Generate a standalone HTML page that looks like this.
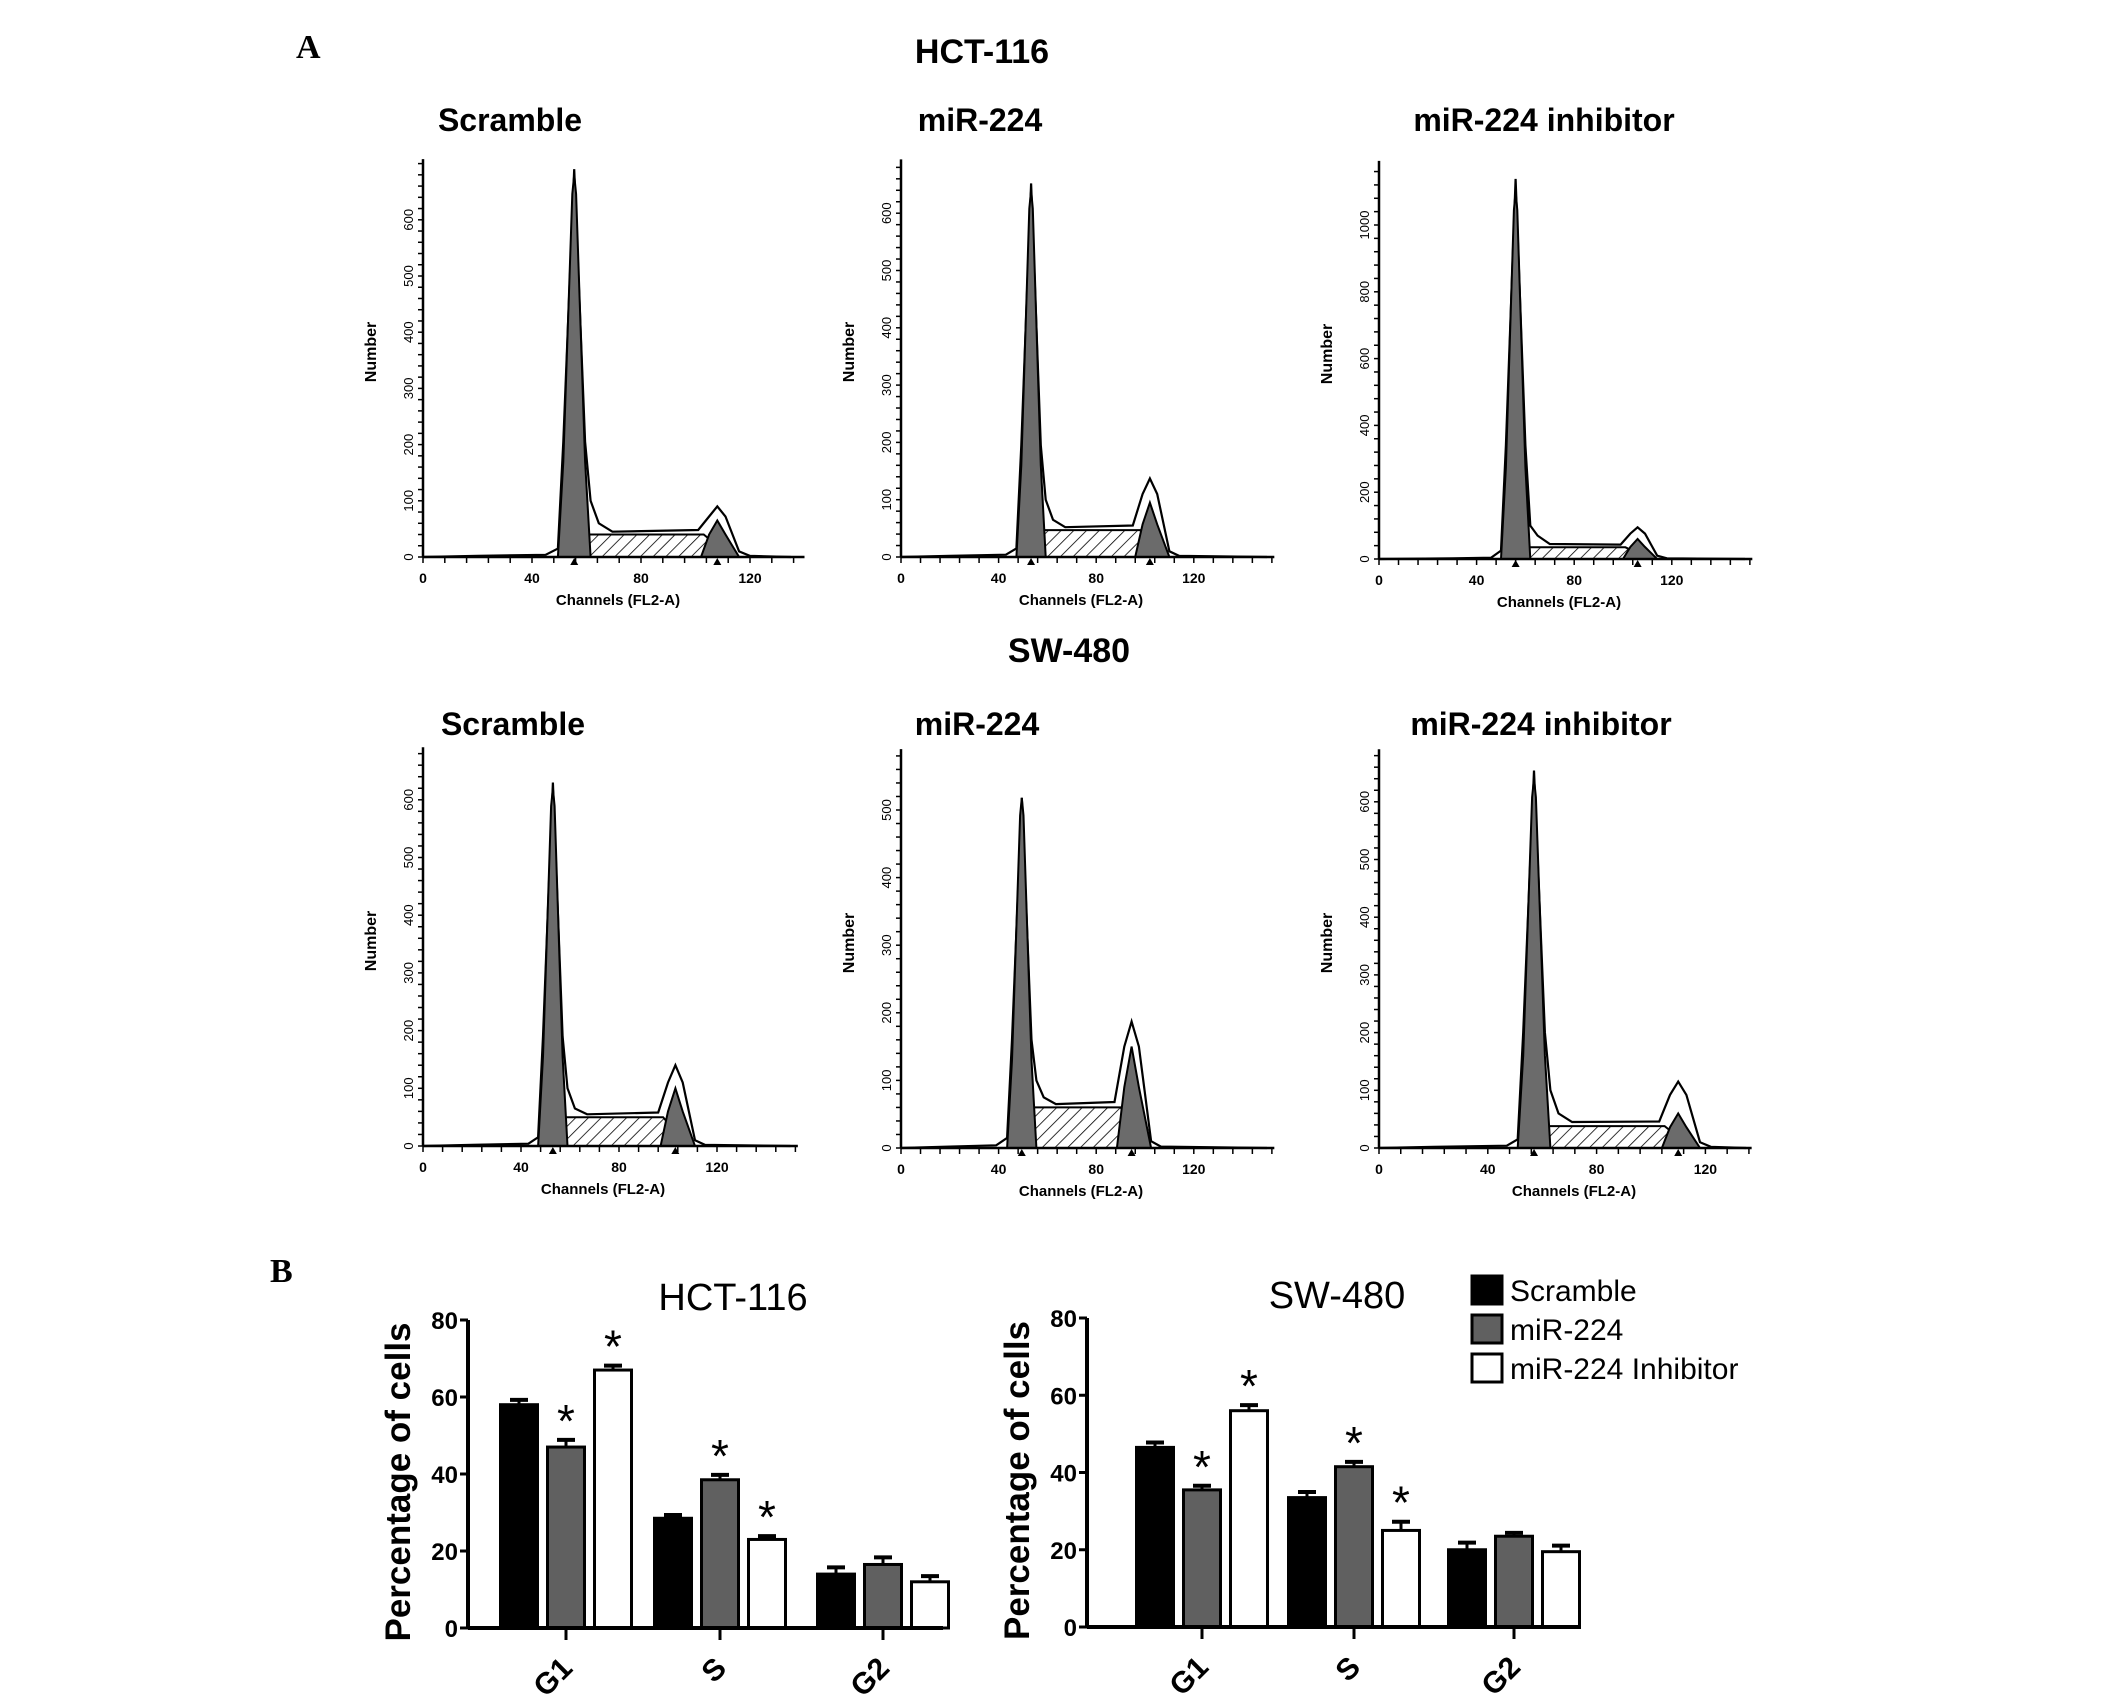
<!DOCTYPE html>
<html><head><meta charset="utf-8">
<style>
html,body{margin:0;padding:0;background:#fff;}
svg{display:block;}
</style></head>
<body>
<svg id="fig" xmlns="http://www.w3.org/2000/svg" width="2126" height="1697" viewBox="0 0 2126 1697">
<defs>
<pattern id="hatch" patternUnits="userSpaceOnUse" width="9" height="9" patternTransform="rotate(45)">
<rect width="9" height="9" fill="#fff"/><line x1="0" y1="0" x2="0" y2="9" stroke="#000" stroke-width="1.6"/>
</pattern>
</defs>
<text x="296" y="58" font-family="Liberation Serif, serif" font-weight="bold" font-size="34">A</text>
<text x="270" y="1282" font-family="Liberation Serif, serif" font-weight="bold" font-size="34">B</text>
<text x="982" y="63" text-anchor="middle" font-family="Liberation Sans, sans-serif" font-weight="bold" font-size="34">HCT-116</text>
<text x="1069" y="662" text-anchor="middle" font-family="Liberation Sans, sans-serif" font-weight="bold" font-size="34">SW-480</text>
<g id="hists"></g>
<g id="bars"></g>
</svg>
<script>
// ---------- Histogram data (channel, count) ----------
const histTitles = ["Scramble","miR-224","miR-224 inhibitor","Scramble","miR-224","miR-224 inhibitor"];
const histG1 = [
 [[49.5,0],[51.5,170],[54.8,646],[55.5,680],[56.2,646],[59.5,170],[61.5,0]],
 [[47.3,0],[49.3,160],[52.6,608],[53.3,640],[54,608],[57.3,160],[59.3,0]],
 [[50,0],[52,275],[55.3,1045],[56,1100],[56.7,1045],[60,275],[62,0]],
 [[47,0],[49,155],[52.3,589],[53,620],[53.7,589],[57,155],[59,0]],
 [[43.5,0],[45.5,130],[48.8,492],[49.5,518],[50.2,492],[53.5,130],[55.5,0]],
 [[51,0],[53,160],[56.3,608],[57,640],[57.7,608],[61,160],[63,0]]
];
const histG2 = [
 [[102,0],[105,40],[108,65],[111,40],[116,0]],
 [[96,0],[99,57],[102,95],[105,57],[110,0]],
 [[100,0],[103,36],[106,60],[109,36],[114,0]],
 [[97,0],[100,60],[103,100],[106,60],[111,0]],
 [[88.5,0],[91.5,90],[94.5,150],[97.5,90],[102.5,0]],
 [[104,0],[107,36],[110,60],[113,36],[118,0]]
];
const histS = [
 [[52,0],[60,40],[103,40],[113,0]],
 [[49,0],[57,47],[98,47],[107,0]],
 [[52,0],[60,35],[101,35],[111,0]],
 [[50,0],[58,50],[98,50],[108,0]],
 [[45,0],[53,60],[90,60],[100,0]],
 [[52,0],[61,38],[105,38],[115,0]]
];
const histOutline = [
 [[0,0],[20,2],[45,4],[49.5,15],[51.5,205],[55.5,690],[59.5,205],[61.5,100],[64.5,60],[69.5,45],[101,48],[105,72],[108,90],[111,72],[116,10],[120,2],[135,0]],
 [[0,0],[20,2],[43,4],[47.3,15],[49.3,195],[53.3,652],[57.3,195],[59.3,100],[62.3,65],[67.3,52],[95,55],[99,110],[102,137],[105,110],[110,10],[114,2],[150,0]],
 [[0,0],[30,2],[46,4],[50,25],[52,340],[56,1138],[60,340],[62,100],[65,70],[70,45],[99,43],[103,76],[106,95],[109,76],[114,10],[118,2],[150,0]],
 [[0,0],[20,2],[43,4],[47,15],[49,190],[53,630],[57,190],[59,100],[62,65],[67,55],[96,58],[100,110],[103,140],[106,110],[111,10],[115,2],[150,0]],
 [[0,0],[20,2],[39,4],[43.5,15],[45.5,160],[49.5,518],[53.5,160],[55.5,100],[58.5,75],[63.5,65],[87.5,68],[91.5,150],[94.5,187],[97.5,150],[102.5,10],[106.5,2],[150,0]],
 [[0,0],[20,2],[47,4],[51,15],[53,200],[57,654],[61,200],[63,100],[66,60],[71,45],[103,46],[107,92],[110,115],[113,92],[118,10],[122,2],[135,0]]
];
const histYTicks = [[0,100,200,300,400,500,600],[0,100,200,300,400,500,600],[0,200,400,600,800,1000],[0,100,200,300,400,500,600],[0,100,200,300,400,500],[0,100,200,300,400,500,600]];
const histXTicks = [0,40,80,120];
const histYMax = [708,694,1192,691,590,691];
const histXMax = [140,153,153,153,153,137];
// layout
const hOX = [423,901,1379,423,901,1379];
const hBase = [557,557,559,1146,1148,1148];
const hPxCh = [2.725,2.44,2.44,2.45,2.44,2.72];
const hPxUnit = [0.562,0.573,0.334,0.577,0.676,0.577];
const hTitleX = [510,980,1544,513,977,1541];

const NS="http://www.w3.org/2000/svg";
function mk(tag,attrs,parent){const e=document.createElementNS(NS,tag);for(const k in attrs)e.setAttribute(k,attrs[k]);parent.appendChild(e);return e;}
const hg=document.getElementById('hists');
for(let i=0;i<6;i++){
  const g=mk('g',{},hg);
  
  
  const sx=c=>hOX[i]+c*hPxCh[i];
  const sy=v=>hBase[i]-v*hPxUnit[i];
  const pts=a=>a.map(p=>sx(p[0]).toFixed(1)+','+sy(p[1]).toFixed(1)).join(' ');
  const t=mk('text',{x:hTitleX[i],y:(i<3?131:735),'text-anchor':'middle','font-family':'Liberation Sans, sans-serif','font-weight':'bold','font-size':'32'},g);
  t.textContent=histTitles[i];
  
  
  const s=mk('polygon',{points:pts(histS[i]),fill:'url(#hatch)',stroke:'#000','stroke-width':'2'},g);
  
  
  const o=mk('polyline',{points:pts(histOutline[i]),fill:'none',stroke:'#000','stroke-width':'2.2'},g);
  
  
  const g1=mk('polygon',{points:pts(histG1[i]),fill:'#6b6b6b',stroke:'#000','stroke-width':'2'},g);
  
  
  const g2=mk('polygon',{points:pts(histG2[i]),fill:'#6b6b6b',stroke:'#000','stroke-width':'2'},g);
  
  
  // axes
  const ya=mk('line',{x1:sx(0),y1:sy(histYMax[i]),x2:sx(0),y2:sy(0),stroke:'#000','stroke-width':'2.5'},g);
  
  
  const xa=mk('line',{x1:sx(0),y1:sy(0),x2:sx(histXMax[i]),y2:sy(0),stroke:'#000','stroke-width':'2.5'},g);
  
  
  const step=histYTicks[i][1]-histYTicks[i][0];
  for(let v=0;v<=histYMax[i];v+=step/5){mk('line',{x1:sx(0)-5,y1:sy(v),x2:sx(0),y2:sy(v),stroke:'#000','stroke-width':'1.5'},g);}
  for(let c=0;c<=histXMax[i];c+=8){mk('line',{x1:sx(c),y1:sy(0),x2:sx(c),y2:sy(0)+6,stroke:'#000','stroke-width':'1.5'},g);}
  histYTicks[i].forEach(v=>{
    const l=mk('text',{x:0,y:0,transform:`translate(${sx(0)-10},${sy(v)}) rotate(-90)`,'text-anchor':'middle','font-family':'Liberation Sans, sans-serif','font-size':'13'},g);
    l.textContent=v;
    
    
  });
  histXTicks.forEach(c=>{
    const l=mk('text',{x:sx(c),y:sy(0)+26,'text-anchor':'middle','font-family':'Liberation Sans, sans-serif','font-weight':'bold','font-size':'14'},g);
    l.textContent=c;
    
    
  });
  const xt=mk('text',{x:sx(0)+(i==0||i==5?195:180),y:sy(0)+48,'text-anchor':'middle','font-family':'Liberation Sans, sans-serif','font-weight':'bold','font-size':'15'},g);
  xt.textContent='Channels (FL2-A)';
  
  
  const ytt=mk('text',{x:0,y:0,transform:`translate(${sx(0)-47},${hBase[i]-205}) rotate(-90)`,'text-anchor':'middle','font-family':'Liberation Sans, sans-serif','font-weight':'bold','font-size':'16'},g);
  ytt.textContent='Number';
  
  
  // markers
  [histG1[i][3][0],histG2[i][2][0]].forEach(c=>{mk('polygon',{points:`${sx(c)-4},${sy(0)+8} ${sx(c)+4},${sy(0)+8} ${sx(c)},${sy(0)+1}`,fill:'#000'},g);});
}

// ---------- Bar chart data ----------
const barCategories = ["G1","S","G2"];
const barSeriesNames = ["Scramble","miR-224","miR-224 Inhibitor"];
const hctScramble = [58,28.5,14];
const hctMir = [47,38.5,16.5];
const hctInh = [67,23,12];
const hctScrambleErr = [1,0.6,1.5];
const hctMirErr = [1.6,1,1.6];
const hctInhErr = [0.9,0.6,1.2];
const swScramble = [46.5,33.5,20];
const swMir = [35.5,41.5,23.5];
const swInh = [56,25,19.5];
const swScrambleErr = [1,1.2,1.6];
const swMirErr = [0.8,1,0.6];
const swInhErr = [1.2,2,1.3];
const hctStars = [[false,true,true],[false,true,true],[false,false,false]];
const swStars = [[false,true,true],[false,true,true],[false,false,false]];
const barYTicks = [0,20,40,60,80];

const bg=document.getElementById('bars');
const barFills=['#000','#606060','#fff'];
function barChart(name,title,ox,base,top,xend,centers,vals,errs,stars,titleX){
  const g=mk('g',{},bg);
  
  
  const ys=v=>base-(base-top)*v/80;
  const bw=37, off=47;
  const tt=mk('text',{x:titleX,y:top-10,'text-anchor':'middle','font-family':'Liberation Sans, sans-serif','font-size':'38'},g);
  tt.textContent=title;
  
  
  for(let c=0;c<3;c++){
    for(let s=0;s<3;s++){
      const cx=centers[c]+(s-1)*off, v=vals[s][c], e=errs[s][c];
      const r=mk('rect',{x:cx-bw/2,y:ys(v),width:bw,height:base-ys(v),fill:barFills[s],stroke:'#000','stroke-width':'3'},g);
      
      
      mk('line',{x1:cx,y1:ys(v),x2:cx,y2:ys(v+e)-1,stroke:'#000','stroke-width':'3'},g);
      mk('line',{x1:cx-9,y1:ys(v+e)-1,x2:cx+9,y2:ys(v+e)-1,stroke:'#000','stroke-width':'4'},g);
      if(stars[c][s]){
        const st=mk('text',{x:cx,y:ys(v+e)-4,'text-anchor':'middle','font-family':'Liberation Sans, sans-serif','font-size':'46'},g);
        st.textContent='*';
        
        
      }
    }
    mk('line',{x1:centers[c],y1:base,x2:centers[c],y2:base+12,stroke:'#000','stroke-width':'3'},g);
    const cl=mk('text',{x:0,y:0,transform:`translate(${centers[c]+8},${base+42}) rotate(-45)`,'text-anchor':'end','font-family':'Liberation Sans, sans-serif','font-weight':'bold','font-size':'30'},g);
    cl.textContent=barCategories[c];
    
    
  }
  const ya=mk('line',{x1:ox,y1:top,x2:ox,y2:base,stroke:'#000','stroke-width':'4'},g);
  
  
  const xa=mk('line',{x1:ox,y1:base,x2:xend,y2:base,stroke:'#000','stroke-width':'4'},g);
  
  
  barYTicks.forEach(v=>{
    mk('line',{x1:ox-8,y1:ys(v),x2:ox,y2:ys(v),stroke:'#000','stroke-width':'3'},g);
    const l=mk('text',{x:ox-10,y:ys(v)+9,'text-anchor':'end','font-family':'Liberation Sans, sans-serif','font-weight':'bold','font-size':'24'},g);
    l.textContent=v;
    
    
  });
  const yt=mk('text',{x:0,y:0,transform:`translate(${ox-58},${(top+base)/2+8}) rotate(-90)`,'text-anchor':'middle','font-family':'Liberation Sans, sans-serif','font-weight':'bold','font-size':'35'},g);
  yt.textContent='Percentage of cells';
  
  
}
barChart('bar-chart-hct116','HCT-116',468,1628,1320,943,[566,720,883],[hctScramble,hctMir,hctInh],[hctScrambleErr,hctMirErr,hctInhErr],hctStars,733);
barChart('bar-chart-sw480','SW-480',1087,1627,1318,1581,[1202,1354,1514],[swScramble,swMir,swInh],[swScrambleErr,swMirErr,swInhErr],swStars,1337);

// legend
const lg=mk('g',{},bg);


barSeriesNames.forEach((n,s)=>{
  const y=1276+s*39;
  const r=mk('rect',{x:1472,y:y,width:30,height:28,fill:barFills[s],stroke:'#000','stroke-width':'3'},lg);
  
  
  const t=mk('text',{x:1510,y:y+25,'font-family':'Liberation Sans, sans-serif','font-size':'30'},lg);
  t.textContent=n;
  
  
});
</script>
</body></html>
